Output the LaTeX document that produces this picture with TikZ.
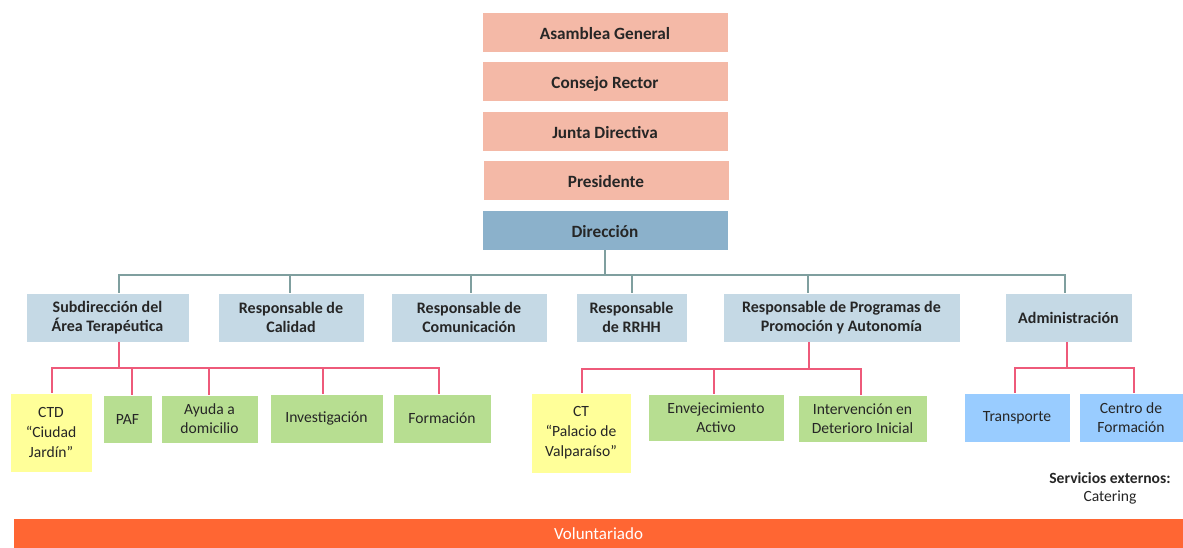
\documentclass[tikz,border=0pt]{standalone}
\usepackage{fontspec}
\setmainfont{Carlito}
\definecolor{salmon}{HTML}{F4B9A7}
\definecolor{dirc}{HTML}{8BB1CB}
\definecolor{midc}{HTML}{C5D9E5}
\definecolor{yel}{HTML}{FFFF99}
\definecolor{grn}{HTML}{B7DE91}
\definecolor{ltb}{HTML}{99CCFF}
\definecolor{gln}{HTML}{7F9F9F}
\definecolor{pln}{HTML}{EE5A7A}
\definecolor{vol}{HTML}{FF6633}
\definecolor{txt}{HTML}{262626}
\newcommand\orgbox[7]{\node[#2, minimum width={(#5-#3)*1pt}, minimum height={(#6-#4)*1pt}] (#1) at ({(#3+#5)/2},{(#4+#6)/2}) {#7};}
\tikzset{
  base/.style={draw=white, line width=0.6pt, inner sep=0pt, align=center, text=txt},
  topb/.style={base, fill=salmon, text height=15pt, text depth=0pt, font=\fontsize{17.2}{20}\selectfont\bfseries},
  dirb/.style={base, fill=dirc, text height=15pt, text depth=0pt, font=\fontsize{17.2}{20}\selectfont\bfseries},
  midb/.style={base, fill=midc, font=\fontsize{16}{19}\selectfont\bfseries},
  yelb/.style={base, fill=yel, font=\fontsize{15.6}{20}\selectfont},
  grnb/.style={base, fill=grn, font=\fontsize{15.6}{19}\selectfont},
  blub/.style={base, fill=ltb, font=\fontsize{15.6}{19}\selectfont},
  gline/.style={draw=gln, line width=1.1pt},
  pline/.style={draw=pln, line width=1.3pt},
}
\begin{document}
\begin{tikzpicture}[x=1pt,y=-1pt]
\useasboundingbox (0,0) rectangle (1183,548);
% top stack
\orgbox{ag}{topb}{482}{12}{728}{52}{Asamblea General}
\orgbox{cr}{topb}{482}{61}{728}{101}{Consejo Rector}
\orgbox{jd}{topb}{482}{111}{728}{151}{Junta Directiva}
\orgbox{pr}{topb}{483}{160}{729}{200}{Presidente}
\orgbox{dir}{dirb}{482}{210}{728}{250}{Dirección}
% middle level
\orgbox{sub}{midb}{26}{293}{189}{342}{Subdirección del\\Área Terapéutica}
\orgbox{cal}{midb}{218}{293}{364}{342}{Responsable de\\Calidad}
\orgbox{com}{midb}{391}{293}{547}{342}{Responsable de\\Comunicación}
\orgbox{rh}{midb}{576}{293}{687}{342}{Responsable\\de RRHH}
\orgbox{prom}{midb}{723}{293}{960}{342}{Responsable de Programas de\\Promoción y Autonomía}
\orgbox{adm}{midb}{1005}{293}{1132}{342}{Administración}
% lower level
\orgbox{ctd}{yelb}{10}{393}{92}{472}{CTD\\“Ciudad\\Jardín”}
\orgbox{paf}{grnb}{103}{395}{152}{443}{PAF}
\orgbox{ayu}{grnb}{161}{395}{258}{443}{Ayuda a\\domicilio}
\orgbox{inv}{grnb}{270}{394}{383}{443}{Investigación}
\orgbox{form}{grnb}{393}{394}{491}{443}{Formación}
\orgbox{ct}{yelb}{531}{393}{631}{473}{CT\\“Palacio de\\Valparaíso”}
\orgbox{env}{grnb}{648}{394}{784}{441}{Envejecimiento\\Activo}
\orgbox{int}{grnb}{798}{395}{927}{442}{Intervención en\\Deterioro Inicial}
\orgbox{tra}{blub}{964}{393}{1070}{442}{Transporte}
\orgbox{cen}{blub}{1079}{393}{1183}{442}{Centro de\\Formación}
% bus coordinates
\coordinate (gbus) at (0,275);
\coordinate (pbus1) at (0,368);
\coordinate (pbus2) at (0,369);
\coordinate (pbus3) at (0,368);
% gray connectors
\draw[gline] (dir.south) -- (dir.south |- gbus) -| ([xshift=11.5pt]sub.north);
\draw[gline] (dir.south |- gbus) -| ([xshift=-1pt]cal.north);
\draw[gline] (dir.south |- gbus) -| ([xshift=2pt]com.north);
\draw[gline] (dir.south |- gbus) -| ([xshift=0.5pt]rh.north);
\draw[gline] (dir.south |- gbus) -| ([xshift=-33.5pt]prom.north);
\draw[gline] (dir.south |- gbus) -| ([xshift=-3.5pt]adm.north);
% pink connectors, Subdirección
\draw[pline] ([xshift=11.5pt]sub.south) -- ([xshift=11.5pt]sub.south |- pbus1) -| ([xshift=1pt]ctd.north);
\draw[pline] ([xshift=11.5pt]sub.south |- pbus1) -| ([xshift=4.5pt]paf.north);
\draw[pline] ([xshift=11.5pt]sub.south |- pbus1) -| ([xshift=-0.5pt]ayu.north);
\draw[pline] ([xshift=11.5pt]sub.south |- pbus1) -| ([xshift=-3.5pt]inv.north);
\draw[pline] ([xshift=11.5pt]sub.south |- pbus1) -| ([xshift=-3pt]form.north);
% pink connectors, Promoción
\draw[pline] ([xshift=-32.5pt]prom.south) -- ([xshift=-32.5pt]prom.south |- pbus2) -| ([xshift=1pt]ct.north);
\draw[pline] ([xshift=-32.5pt]prom.south |- pbus2) -| ([xshift=-2pt]env.north);
\draw[pline] ([xshift=-32.5pt]prom.south |- pbus2) -| ([xshift=-1.5pt]int.north);
% pink connectors, Administración
\draw[pline] ([xshift=-1.5pt]adm.south) -- ([xshift=-1.5pt]adm.south |- pbus3) -| ([xshift=-2pt]tra.north);
\draw[pline] ([xshift=-1.5pt]adm.south |- pbus3) -| ([xshift=3pt]cen.north);
% external services
\node[align=center, text=txt, inner sep=0pt, font=\fontsize{15.6}{18}\selectfont] (ext) at (1110,488) {\textbf{Servicios externos:}\\Catering};
% volunteer bar
\node[fill=vol, draw=none, minimum width=1169pt, minimum height=29pt, inner sep=0pt, text=white, font=\fontsize{17}{18}\selectfont] (volb) at (598.5,533.5) {Voluntariado};
\end{tikzpicture}
\end{document}
